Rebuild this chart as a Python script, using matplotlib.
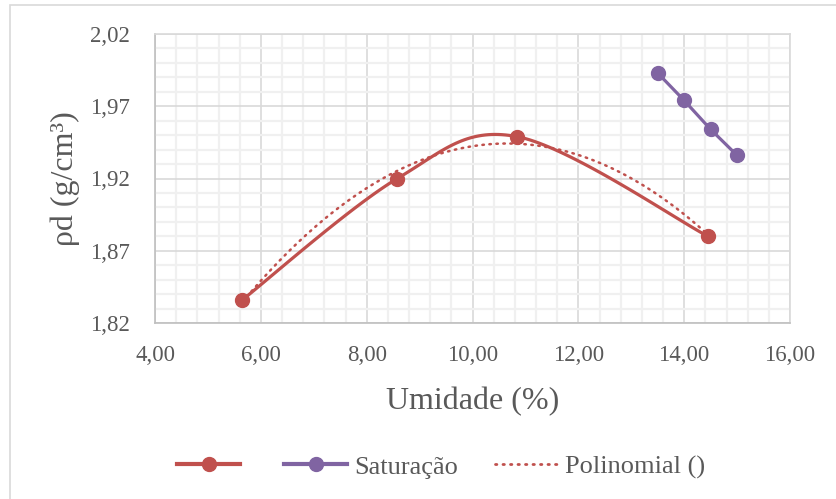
import numpy as np
import matplotlib
matplotlib.use("Agg")
import matplotlib.pyplot as plt
from matplotlib.lines import Line2D
from matplotlib.patches import Rectangle
from matplotlib.ticker import FixedLocator, MultipleLocator, FuncFormatter

# compaction test points
umidade = [5.65, 8.58, 10.84, 14.45]
densidade = [1.836, 1.920, 1.949, 1.880]

# saturation line
umidade_sat = [13.5, 14.0, 14.5, 15.0]
densidade_sat = [1.993, 1.974, 1.954, 1.936]

y_ticks = [1.82, 1.87, 1.92, 1.97, 2.02]
x_ticks = [4, 6, 8, 10, 12, 14, 16]

RED = "#C0504D"
PURPLE = "#8064A2"
TEXT = "#595959"


def smooth(xs, ys, n=40):
    # bezier smoothing between consecutive points (control points from neighbours)
    p = np.column_stack([xs, ys]).astype(float)
    p_ext = np.vstack([p[0], p, p[-1]])
    out = []
    t = np.linspace(0, 1, n)[:, None]
    for i in range(len(p) - 1):
        p0, p1, p2, p3 = p_ext[i], p_ext[i + 1], p_ext[i + 2], p_ext[i + 3]
        c1 = p1 + (p2 - p0) / 6
        c2 = p2 - (p3 - p1) / 6
        seg = ((1 - t) ** 3) * p1 + 3 * ((1 - t) ** 2) * t * c1 + 3 * (1 - t) * t ** 2 * c2 + t ** 3 * p2
        out.append(seg if i == 0 else seg[1:])
    s = np.vstack(out)
    return s[:, 0], s[:, 1]


plt.rcParams["font.family"] = ["Liberation Serif", "DejaVu Serif"]

fig = plt.figure(figsize=(8.36, 4.99), dpi=100)
ax = fig.add_axes([155 / 836, 1 - 323 / 499, 635 / 836, 289 / 499])

# chart area border (runs past the right and bottom edges)
fig.patches.append(Rectangle((9.5 / 836, -0.1), 1.2, 1.1 - 5.5 / 499, transform=fig.transFigure,
                             fill=False, edgecolor="#D9D9D9", linewidth=1.2, zorder=0))

sx, sy = smooth(umidade, densidade)
ax.plot(sx, sy, color=RED, lw=2.3, solid_capstyle="round", zorder=4)
ax.plot(umidade, densidade, "o", color=RED, ms=10, zorder=5)

coef = np.polyfit(umidade, densidade, 2)
px = np.linspace(min(umidade), max(umidade), 200)
ax.plot(px, np.polyval(coef, px), color=RED, lw=1.8, linestyle=(0, (0.6, 2.2)),
        dash_capstyle="round", zorder=3)

ax.plot(umidade_sat, densidade_sat, "-o", color=PURPLE, lw=2.3, ms=10, zorder=4)

ax.set_xlim(4, 16)
ax.set_ylim(1.82, 2.02)
ax.xaxis.set_major_locator(FixedLocator(x_ticks))
ax.xaxis.set_minor_locator(MultipleLocator(0.4))
ax.yaxis.set_major_locator(FixedLocator(y_ticks))
ax.yaxis.set_minor_locator(FixedLocator(np.arange(1.82, 2.0201, 0.01)))
fmt = FuncFormatter(lambda v, _: f"{v:.2f}".replace(".", ","))
ax.xaxis.set_major_formatter(fmt)
ax.yaxis.set_major_formatter(fmt)

ax.grid(which="minor", color="#F0F0F0", lw=1.6)
ax.grid(which="major", color="#D9D9D9", lw=1.2)
ax.set_axisbelow(True)
ax.tick_params(which="both", length=0)
ax.tick_params(axis="both", labelsize=16.5, labelcolor=TEXT)
ax.tick_params(axis="x", pad=16)
ax.tick_params(axis="y", pad=18)
for side, sp in ax.spines.items():
    sp.set_color("#D9D9D9" if side in ("top", "right") else "#BFBFBF")
    sp.set_linewidth(1.2)

ax.set_xlabel("Umidade (%)", fontsize=23, color=TEXT, labelpad=15)
ax.set_ylabel("ρd (g/cm³)", fontsize=23, color=TEXT, labelpad=7)

handles = [
    Line2D([], [], color=RED, lw=3, marker="o", ms=10),
    Line2D([], [], color=PURPLE, lw=3, marker="o", ms=10),
    Line2D([], [], color=RED, lw=2, linestyle=(0, (0.5, 2.2)), dash_capstyle="round"),
]
fig.legend(handles, ["", "Saturação", "Polinomial ()"], loc="center",
           bbox_to_anchor=(441 / 836, (499 - 467) / 499), ncol=3, frameon=False,
           fontsize=19, labelcolor=TEXT, handlelength=2.4, handletextpad=0.25,
           columnspacing=1.4)

fig.savefig("out.png", dpi=100)
